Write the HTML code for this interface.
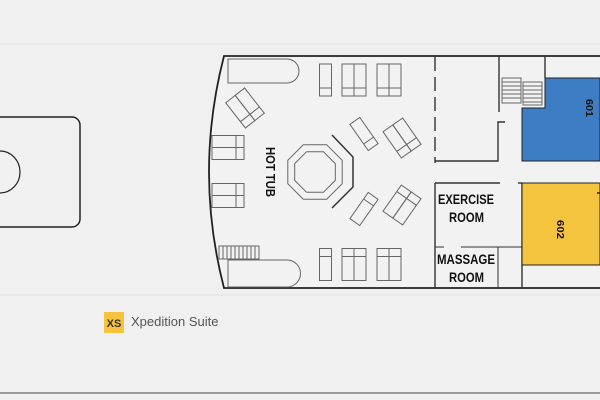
<!DOCTYPE html>
<html><head><meta charset="utf-8"><style>
html,body{margin:0;padding:0;background:#f0f0f0;}
svg{display:block;}
.b{font-family:"Liberation Sans",sans-serif;font-weight:bold;fill:#111;}
</style></head><body>
<svg width="600" height="400" viewBox="0 0 600 400" xmlns="http://www.w3.org/2000/svg">
<defs>
<g id="L"><rect x="-6" y="-16" width="12" height="32" fill="none" stroke="#666" stroke-width="1"/><line x1="-6" y1="8" x2="6" y2="8" stroke="#666"/></g>
<g id="D"><use href="#L" x="-6"/><use href="#L" x="6"/></g>
</defs>
<rect width="600" height="400" fill="#f0f0f0"/>
<line x1="0" y1="44" x2="600" y2="44" stroke="#e6e6e6"/>
<line x1="0" y1="295" x2="600" y2="295" stroke="#dedede"/>
<line x1="0" y1="393" x2="600" y2="393" stroke="#9a9a9a" stroke-width="2"/>
<rect x="-20" y="117" width="100" height="110" rx="8" fill="none" stroke="#222" stroke-width="1.5"/>
<ellipse cx="0" cy="172" rx="20" ry="21" fill="none" stroke="#222" stroke-width="1.2"/>
<path d="M600,56 L224,56 Q194,172 224,288 L600,288" fill="#f2f2f2" stroke="#222" stroke-width="1.8"/>
<path d="M228,59 H287 A12,12 0 0 1 287,83 H228 Z" fill="none" stroke="#666"/>
<path d="M228,260 H287 A13.5,13.5 0 0 1 287,287 H228 Z" fill="none" stroke="#666"/>
<rect x="219" y="246" width="40" height="13" fill="none" stroke="#666"/>
<g stroke="#666"><line x1="223" y1="246" x2="223" y2="259"/><line x1="227" y1="246" x2="227" y2="259"/><line x1="231" y1="246" x2="231" y2="259"/><line x1="235" y1="246" x2="235" y2="259"/><line x1="239" y1="246" x2="239" y2="259"/><line x1="243" y1="246" x2="243" y2="259"/><line x1="247" y1="246" x2="247" y2="259"/><line x1="251" y1="246" x2="251" y2="259"/><line x1="255" y1="246" x2="255" y2="259"/></g>
<use href="#L" x="325.5" y="80"/><use href="#D" x="354" y="80"/><use href="#D" x="389" y="80"/>
<use href="#L" x="325.5" y="264.5" transform="rotate(180 325.5 264.5)"/><use href="#D" x="354" y="264.5" transform="rotate(180 354 264.5)"/><use href="#D" x="389" y="264.5" transform="rotate(180 389 264.5)"/>
<use href="#D" transform="translate(228,147.5) rotate(-90)"/>
<use href="#D" transform="translate(228,195.5) rotate(-90)"/>
<use href="#D" transform="translate(245,108) rotate(-38)"/>
<use href="#L" transform="translate(364,134) rotate(-35)"/>
<use href="#D" transform="translate(402,138) rotate(-35)"/>
<use href="#L" transform="translate(364,209) rotate(35) scale(1,-1)"/>
<use href="#D" transform="translate(402,205) rotate(35) scale(1,-1)"/>
<polygon points="326.7,144.8 342.2,160.3 342.2,183.7 326.7,199.2 303.3,199.2 287.8,183.7 287.8,160.3 303.3,144.8" fill="none" stroke="#666"/>
<polygon points="323.4,151.7 335.3,163.6 335.3,180.4 323.4,192.3 306.6,192.3 294.7,180.4 294.7,163.6 306.6,151.7" fill="none" stroke="#666"/>
<polyline points="332,135 353,157 353,187 332,208" fill="none" stroke="#333" stroke-width="1.5"/>
<text class="b" font-size="13" transform="translate(266,147) rotate(90)" textLength="50" lengthAdjust="spacingAndGlyphs">HOT TUB</text>
<g stroke="#333" stroke-width="1.4" fill="none">
<line x1="435" y1="57" x2="435" y2="163" stroke-dasharray="14,6"/>
<polyline points="435,161 498,161 498,122 505,122"/>
<line x1="499" y1="56" x2="499" y2="112"/>
<line x1="545" y1="56" x2="545" y2="78"/>
<line x1="435" y1="183" x2="500" y2="183"/>
<line x1="518" y1="183" x2="522" y2="183"/>
<line x1="435" y1="183" x2="435" y2="288"/>
<line x1="435" y1="247" x2="444" y2="247" stroke-width="1"/>
<line x1="461" y1="247" x2="522" y2="247" stroke-width="1"/>
<line x1="498" y1="247" x2="498" y2="288" stroke-width="1"/>
<line x1="522" y1="183" x2="522" y2="288"/>
</g>
<rect x="502" y="78" width="19" height="25" fill="none" stroke="#666"/>
<g stroke="#666"><line x1="502" y1="82" x2="521" y2="82"/><line x1="502" y1="86" x2="521" y2="86"/><line x1="502" y1="90" x2="521" y2="90"/><line x1="502" y1="94" x2="521" y2="94"/><line x1="502" y1="98" x2="521" y2="98"/></g>
<rect x="523" y="82" width="19" height="23" fill="none" stroke="#666"/>
<g stroke="#666"><line x1="523" y1="86" x2="542" y2="86"/><line x1="523" y1="90" x2="542" y2="90"/><line x1="523" y1="94" x2="542" y2="94"/><line x1="523" y1="98" x2="542" y2="98"/><line x1="523" y1="102" x2="542" y2="102"/></g>
<path d="M545,78 H600 V161 H522 V108 H545 Z" fill="#3c7dc4" stroke="#222" stroke-width="1"/>
<rect x="522" y="183" width="78" height="82" fill="#f5c43f" stroke="#222" stroke-width="1"/>
<line x1="597" y1="193" x2="600" y2="193" stroke="#222" stroke-width="1.5"/>
<text class="b" font-size="10" transform="translate(586,99) rotate(90)" textLength="18" lengthAdjust="spacingAndGlyphs">601</text>
<text class="b" font-size="10" transform="translate(557,220) rotate(90)" textLength="19" lengthAdjust="spacingAndGlyphs">602</text>
<text class="b" font-size="14" x="438" y="204" textLength="56" lengthAdjust="spacingAndGlyphs">EXERCISE</text>
<text class="b" font-size="14" x="449" y="222" textLength="35" lengthAdjust="spacingAndGlyphs">ROOM</text>
<text class="b" font-size="14" x="437" y="264" textLength="58" lengthAdjust="spacingAndGlyphs">MASSAGE</text>
<text class="b" font-size="14" x="449" y="282" textLength="35" lengthAdjust="spacingAndGlyphs">ROOM</text>
<rect x="104" y="312" width="20" height="21" fill="#f5c43f"/>
<text x="114" y="327" text-anchor="middle" font-family="Liberation Sans,sans-serif" font-weight="bold" font-size="11" fill="#333">XS</text>
<text x="131" y="326" font-family="Liberation Sans,sans-serif" font-size="13" fill="#555">Xpedition Suite</text>
</svg>
</body></html>
